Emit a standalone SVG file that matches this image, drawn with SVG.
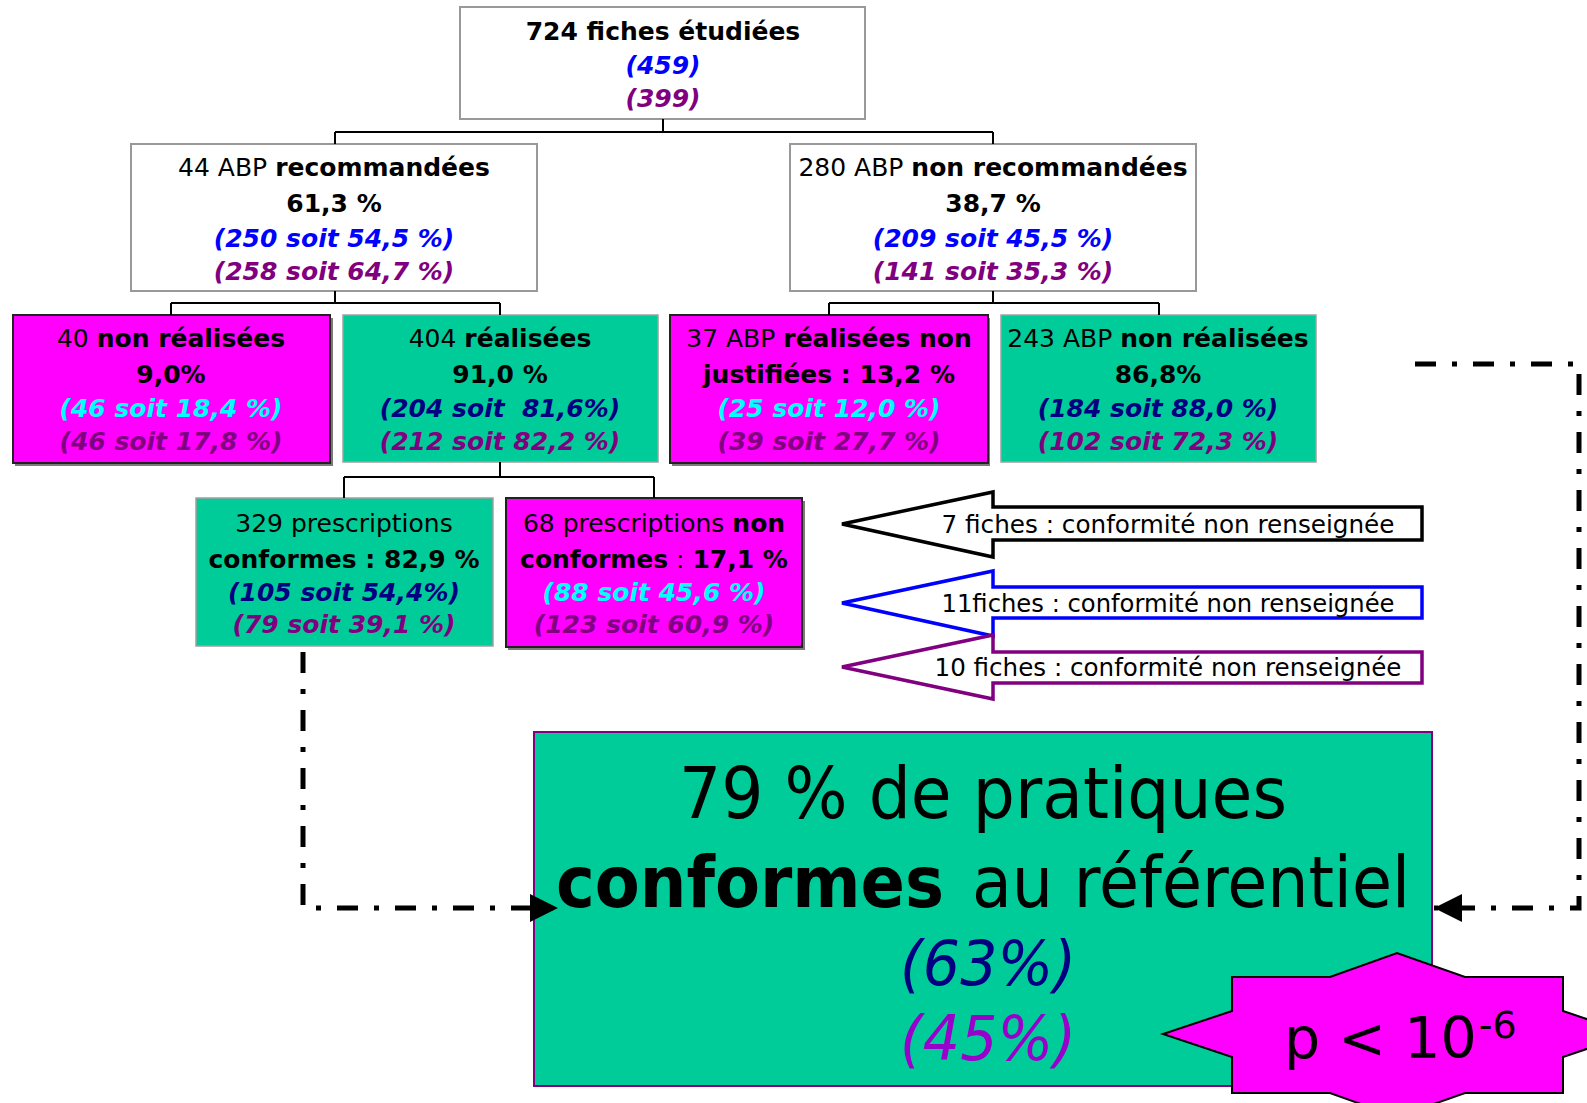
<svg xmlns="http://www.w3.org/2000/svg" width="1587" height="1103" viewBox="0 0 1587 1103">
<style>
text{font-family:"DejaVu Sans","Liberation Sans",sans-serif;font-size:25px;text-anchor:middle;fill:#000}
.b{font-weight:bold}
.i{font-style:italic;font-weight:bold}
.blue{fill:#0000FF}.pur{fill:#800080}.cyan{fill:#00FFFF}.navy{fill:#000080}
.wbox{fill:#fff;stroke:#999;stroke-width:2}
.tbox{fill:#00CC99;stroke:#A0A0A0;stroke-width:1.5}
.mbox{fill:#FF00FF;stroke:#222;stroke-width:2}
.shadow{fill:#7a7a7a}
.tree{fill:none;stroke:#000;stroke-width:2}
.dash{fill:none;stroke:#000;stroke-width:5;stroke-dasharray:21 16 5 16}
.arrtxt{font-family:"Comic Sans MS","DejaVu Sans",sans-serif;font-size:24px}
</style>
<defs>
<marker id="ah" markerUnits="userSpaceOnUse" markerWidth="30" markerHeight="30" refX="28" refY="14" orient="auto">
<path d="M0,0 L28,14 L0,28 Z" fill="#000"/>
</marker>
</defs>

<g id="n-total">
<rect class="wbox" x="460" y="7" width="405" height="112"/>
<text x="663" y="40" class="b">724 fiches étudiées</text>
<text x="663" y="74" class="i blue">(459)</text>
<text x="663" y="107" class="i pur">(399)</text>
</g>

<g id="n-recommandees">
<rect class="wbox" x="131" y="144" width="406" height="147"/>
<text x="334" y="176">44 ABP <tspan class="b">recommandées</tspan></text>
<text x="334" y="212" class="b">61,3 %</text>
<text x="334" y="247" class="i blue">(250 soit 54,5 %)</text>
<text x="334" y="280" class="i pur">(258 soit 64,7 %)</text>
</g>

<g id="n-non-recommandees">
<rect class="wbox" x="790" y="144" width="406" height="147"/>
<text x="993" y="176">280 ABP <tspan class="b">non recommandées</tspan></text>
<text x="993" y="212" class="b">38,7 %</text>
<text x="993" y="247" class="i blue">(209 soit 45,5 %)</text>
<text x="993" y="280" class="i pur">(141 soit 35,3 %)</text>
</g>

<g id="n-non-realisees">
<rect class="shadow" x="15" y="318" width="318" height="148"/>
<rect class="mbox" x="13" y="315" width="317" height="148"/>
<text x="171" y="347">40 <tspan class="b">non réalisées</tspan></text>
<text x="171" y="383" class="b">9,0%</text>
<text x="171" y="417" class="i cyan">(46 soit 18,4 %)</text>
<text x="171" y="450" class="i pur">(46 soit 17,8 %)</text>
</g>

<g id="n-realisees">
<rect class="tbox" x="343" y="315" width="315" height="147"/>
<text x="500" y="347">404 <tspan class="b">réalisées</tspan></text>
<text x="500" y="383" class="b">91,0 %</text>
<text x="500" y="417" class="i navy">(204 soit&#160; 81,6%)</text>
<text x="500" y="450" class="i pur">(212 soit 82,2 %)</text>
</g>

<g id="n-realisees-non-justifiees">
<rect class="shadow" x="672" y="318" width="318" height="148"/>
<rect class="mbox" x="670" y="315" width="318" height="148"/>
<text x="829" y="347">37 ABP <tspan class="b">réalisées non</tspan></text>
<text x="829" y="383" class="b">justifiées : 13,2 %</text>
<text x="829" y="417" class="i cyan">(25 soit 12,0 %)</text>
<text x="829" y="450" class="i pur">(39 soit 27,7 %)</text>
</g>

<g id="n-abp-non-realisees">
<rect class="tbox" x="1001" y="315" width="315" height="147"/>
<text x="1158" y="347">243 ABP <tspan class="b">non réalisées</tspan></text>
<text x="1158" y="383" class="b">86,8%</text>
<text x="1158" y="417" class="i navy">(184 soit 88,0 %)</text>
<text x="1158" y="450" class="i pur">(102 soit 72,3 %)</text>
</g>

<g id="n-conformes">
<rect class="tbox" x="196" y="498" width="297" height="148"/>
<text x="344" y="532">329 prescriptions</text>
<text x="344" y="568" class="b">conformes : 82,9 %</text>
<text x="344" y="601" class="i navy">(105 soit 54,4%)</text>
<text x="344" y="633" class="i pur">(79 soit 39,1 %)</text>
</g>

<g id="n-non-conformes">
<rect class="shadow" x="508" y="501" width="297" height="149"/>
<rect class="mbox" x="506" y="498" width="296" height="149"/>
<text x="654" y="532">68 prescriptions <tspan class="b">non</tspan></text>
<text x="654" y="568"><tspan class="b">conformes</tspan> : <tspan class="b">17,1 %</tspan></text>
<text x="654" y="601" class="i cyan">(88 soit 45,6 %)</text>
<text x="654" y="633" class="i pur">(123 soit 60,9 %)</text>
</g>

<g id="n-nr-noir">
<polygon points="842,524 993,492 993,507 1422,507 1422,540 993,540 993,557" fill="#fff" stroke="#000" stroke-width="3.5"/>
<text class="arrtxt" x="1168" y="533" textLength="453" lengthAdjust="spacingAndGlyphs">7 fiches : conformité non renseignée</text>
</g>

<g id="n-nr-bleu">
<polygon points="842,603 993,571 993,587 1422,587 1422,618 993,618 993,636" fill="#fff" stroke="#0000FF" stroke-width="3.5"/>
<text class="arrtxt" x="1168" y="612" textLength="453" lengthAdjust="spacingAndGlyphs">11fiches : conformité non renseignée</text>
</g>

<g id="n-nr-violet">
<polygon points="842,667 993,635 993,652 1422,652 1422,683 993,683 993,699" fill="#fff" stroke="#800080" stroke-width="3.5"/>
<text class="arrtxt" x="1168" y="676" textLength="467" lengthAdjust="spacingAndGlyphs">10 fiches : conformité non renseignée</text>
</g>

<g id="n-resultat">
<rect x="534" y="732" width="898" height="354" fill="#00CC99" stroke="#800080" stroke-width="2"/>
<text><tspan x="983" y="818" style="font-size:71px" textLength="608" lengthAdjust="spacingAndGlyphs">79 % de pratiques</tspan><tspan x="556" y="907" style="font-size:72px;font-weight:bold;text-anchor:start" textLength="388" lengthAdjust="spacingAndGlyphs">conformes</tspan><tspan x="972" y="907" style="font-size:72px;text-anchor:start" textLength="438" lengthAdjust="spacingAndGlyphs">au référentiel</tspan><tspan x="988" y="985" style="font-size:62px;font-style:italic" class="navy" textLength="176" lengthAdjust="spacingAndGlyphs">(63%)</tspan><tspan x="988" y="1060" style="font-size:62px;font-style:italic;fill:#9900CC" textLength="176" lengthAdjust="spacingAndGlyphs">(45%)</tspan></text>
</g>

<g id="n-p">
<polygon points="1232,977 1330,977 1397,953 1465,977 1563,977 1563,1011 1631,1034 1563,1057 1563,1093 1465,1093 1397,1117 1330,1093 1232,1093 1232,1057 1163,1034 1232,1011" fill="#FF00FF" stroke="#000" stroke-width="2"/>
<text x="1284" y="1058" style="font-size:57px;text-anchor:start">p &lt; 10<tspan dx="2" dy="-20" style="font-size:38px">-6</tspan></text>
</g>

<g id="connectors">
<path class="tree" d="M663,119 V132 M335,132 H993 M335,132 V144 M993,132 V144 M335,291 V303 M171,303 H500 M171,303 V315 M500,303 V315 M993,291 V303 M829,303 H1159 M829,303 V315 M1159,303 V315 M500,462 V477 M344,477 H654 M344,477 V498 M654,477 V498"/>
<path class="dash" d="M303,652 V908 H558" marker-end="url(#ah)"/>
<path class="dash" d="M1415,364 H1579 V908 H1434" marker-end="url(#ah)"/>
</g>
</svg>
